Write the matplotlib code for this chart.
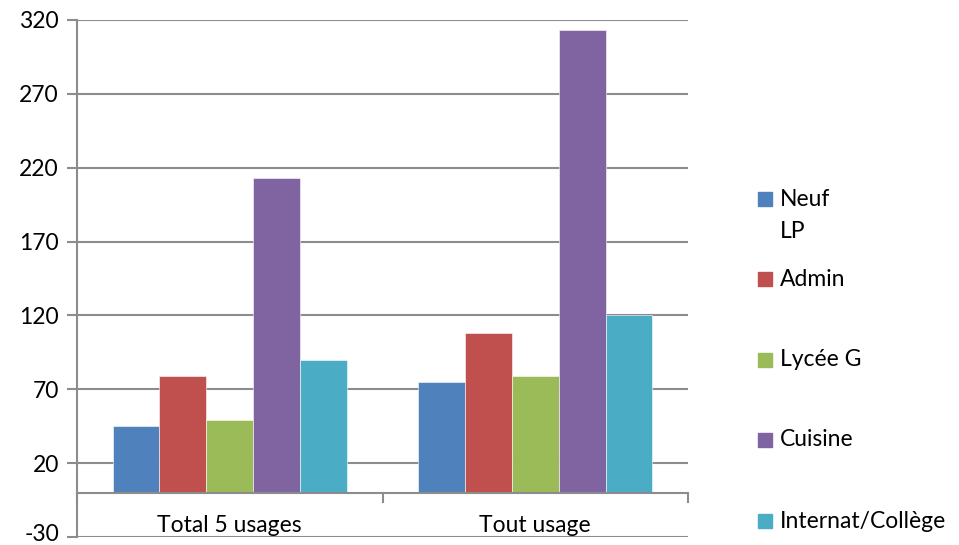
import matplotlib
matplotlib.use('Agg')
import matplotlib.pyplot as plt
from matplotlib.patches import Rectangle
from matplotlib.transforms import ScaledTranslation
import numpy as np

categories = ['Total 5 usages', 'Tout usage']
series = ['Neuf\nLP', 'Admin', 'Lycée G', 'Cuisine', 'Internat/Collège']
neuf = [45, 75]
admin = [79, 108]
lycee = [49, 79]
cuisine = [213, 313]
internat = [90, 120]
values = [neuf, admin, lycee, cuisine, internat]
colors = ['#4F81BD', '#C0504D', '#9BBB59', '#8064A2', '#4BACC6']
yticks = [-30, 20, 70, 120, 170, 220, 270, 320]

plt.rcParams['font.family'] = ['Lato', 'DejaVu Sans']
fs = 16.5
W, H = 959, 545
fig = plt.figure(figsize=(W / 100, H / 100), dpi=100)
ax = fig.add_axes([77 / W, 1 - 537 / H, (688 - 77) / W, (537 - 20) / H])

grid_c = '#8c8c8c'
x = np.arange(len(categories))
bw = 0.1534
for i, (vals, c) in enumerate(zip(values, colors)):
    ax.bar(x + (i - 2) * bw, vals, width=bw, color=c, edgecolor='white',
           linewidth=0.4, zorder=3)

ax.set_xlim(-0.5, 1.5)
ax.set_ylim(-30, 320)
ax.set_yticks(yticks)
ax.set_yticklabels([str(t) for t in yticks], fontsize=fs, va='center_baseline')
ax.yaxis.grid(True, color=grid_c, linewidth=1.5, zorder=0)
ax.set_xticks([])
for s in ['top', 'right', 'bottom']:
    ax.spines[s].set_visible(False)
ax.spines['left'].set_color(grid_c)
ax.spines['left'].set_linewidth(1.5)
ax.tick_params(axis='y', length=7, width=1.5, color=grid_c, pad=6)

# keep the lowest label inside the figure
low = ax.yaxis.get_major_ticks()[0].label1
low.set_transform(low.get_transform() + ScaledTranslation(0, 3 / 72, fig.dpi_scale_trans))

# category axis at zero
ax.axhline(0, color=grid_c, linewidth=1.5, zorder=4)
for xt in [-0.5, 0.5, 1.5]:
    ax.plot([xt, xt], [0, -6], color=grid_c, linewidth=1.5, zorder=4, clip_on=False)
for xi, cat in zip(x, categories):
    ax.text(xi, -22, cat, ha='center', va='center', fontsize=fs)

# legend
leg_y = [199, 279, 360, 440, 521]
for name, c, yy in zip(series, colors, leg_y):
    fig.add_artist(Rectangle((758 / W, 1 - (yy + 7) / H), 14 / W, 14 / H,
                             transform=fig.transFigure, color=c))
    lines = name.split('\n')
    for k, ln in enumerate(lines):
        fig.text(780 / W, 1 - (yy + k * 33) / H, ln, ha='left', va='center',
                 fontsize=fs)

fig.savefig('out.png', dpi=100)
